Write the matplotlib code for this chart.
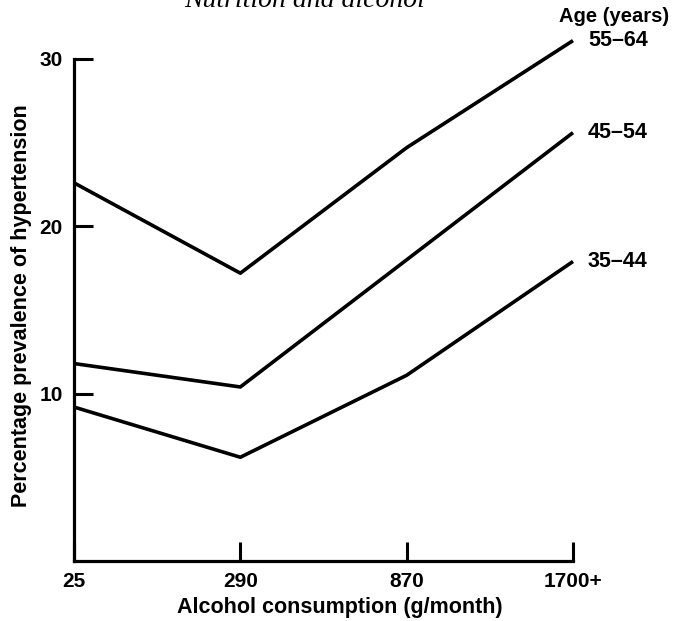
import matplotlib
matplotlib.use("Agg")
import matplotlib.pyplot as plt

categories = ["25", "290", "870", "1700+"]
age_groups = ["55–64", "45–54", "35–44"]
prev_55_64 = [22.6, 17.2, 24.7, 31.1]
prev_45_54 = [11.8, 10.4, 18.0, 25.6]
prev_35_44 = [9.2, 6.2, 11.1, 17.9]
y_ticks = [10, 20, 30]

plt.rcParams['font.family'] = ['Liberation Sans', 'DejaVu Sans']

fig = plt.figure(figsize=(6.73, 6.21), dpi=100)
W, H = 673, 621
L, R, T, B = 74, 573, 59, 561
ax = fig.add_axes([L / W, 1 - B / H, (R - L) / W, (B - T) / H])

x = list(range(len(categories)))
series = [prev_55_64, prev_45_54, prev_35_44]
for vals in series:
    ax.plot(x, vals, color='black', lw=2.6, clip_on=False, solid_capstyle='butt')

ax.set_xlim(0, 3)
ax.set_ylim(0, 30)
ax.set_xticks(x)
ax.set_xticklabels(categories, fontsize=15, fontweight='bold')
ax.set_yticks(y_ticks)
ax.set_yticklabels([str(v) for v in y_ticks], fontsize=15, fontweight='bold')
ax.tick_params(axis='y', direction='in', length=14, width=2.2, pad=8)
ax.tick_params(axis='x', direction='in', length=14, width=2.2, pad=8)

ax.spines['top'].set_visible(False)
ax.spines['right'].set_visible(False)
ax.spines['left'].set_linewidth(2.3)
ax.spines['bottom'].set_linewidth(2.3)

fig.text(340 / W, 1 - 607 / H, "Alcohol consumption (g/month)", fontsize=15.5,
         fontweight='bold', ha='center', va='center')
fig.text(22 / W, 1 - 306 / H, "Percentage prevalence of hypertension", fontsize=15.5,
         fontweight='bold', rotation=90, ha='center', va='center')

# Age labels at line ends
for name, vals in zip(age_groups, series):
    ax.text(3.09, vals[-1], name, fontsize=15.5, fontweight='bold', ha='left',
            va='center', clip_on=False)
fig.text(614 / W, 1 - 17 / H, "Age (years)", fontsize=14.5, fontweight='bold',
         ha='center', va='center')

# Partially visible running header
fig.text(305 / W, 1 - 7 / H, "Nutrition and alcohol", fontsize=20, style='italic',
         family='Liberation Serif', ha='center', va='baseline')

fig.savefig("out.png", dpi=100)
